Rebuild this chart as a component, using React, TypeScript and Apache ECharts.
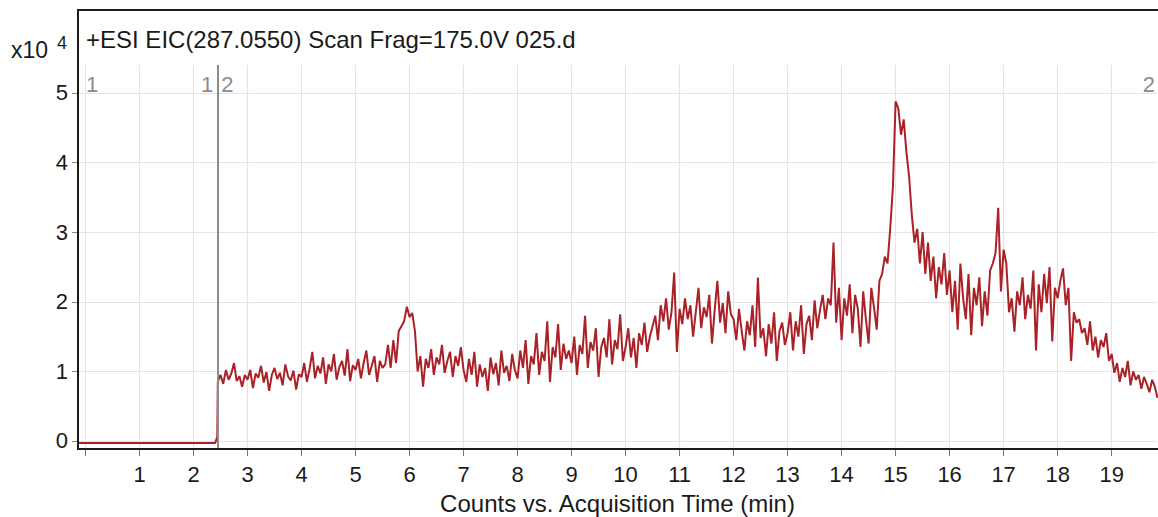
import React, { useEffect, useRef } from 'react';
import * as echarts from 'echarts';

// ---------- data ----------
const titleText = '+ESI EIC(287.0550) Scan Frag=175.0V 025.d';
const xAxisTitle = 'Counts vs. Acquisition Time (min)';
const yScaleText = 'x10';
const yScaleExponent = '4';

const xTickValues = [0, 1, 2, 3, 4, 5, 6, 7, 8, 9, 10, 11, 12, 13, 14, 15, 16, 17, 18, 19];
const xLabelValues = [1, 2, 3, 4, 5, 6, 7, 8, 9, 10, 11, 12, 13, 14, 15, 16, 17, 18, 19];
const yTickValues = [0, 1, 2, 3, 4, 5];

const xMin = -0.139;
const xMax = 19.84;
const yMin = -0.115;
const yMax = 5.402;

// segment boundary (acquisition segments 1 | 2)
const segmentBoundary = 2.44;
const segmentIds = ['1', '2'];

// flat pre-acquisition part (time, intensity x10^4)
const preTimes = [-0.14, 2.4, 2.44];
const preValues = [-0.03, -0.03, 0.06];

// scans: start time, spacing (min), intensity x10^4
const scanStart = 2.45;
const scanStep = 0.05;
const scanValues = [
  // 2.45 - 2.95
  0.85, 0.95, 0.82, 1.02, 0.88, 0.97, 1.12, 0.86, 0.93, 0.78, 0.95,
  // 3
  0.88, 1.02, 0.76, 0.97, 0.91, 1.08, 0.84, 0.99, 0.72, 0.95, 1.05, 0.89, 0.98, 0.80, 1.10, 0.93, 0.87, 1.01, 0.74, 0.96,
  // 4
  0.92, 1.12, 0.85, 1.04, 1.28, 0.90, 1.08, 0.97, 1.20, 0.82, 1.10, 1.00, 1.25, 0.88, 1.06, 1.15, 0.94, 1.32, 0.86, 1.09,
  // 5
  1.02, 1.18, 0.90, 1.12, 1.30, 0.95, 1.08, 1.22, 0.85, 1.15, 1.05, 1.10, 1.38, 1.05, 1.45, 1.12, 1.58, 1.65, 1.72, 1.93,
  // 6
  1.78, 1.84, 1.58, 1.00, 1.22, 0.78, 1.18, 1.05, 1.32, 0.95, 1.20, 1.10, 1.38, 0.98, 1.15, 1.28, 0.92, 1.22, 1.08, 1.35,
  // 7
  1.02, 0.85, 1.18, 0.95, 1.28, 0.78, 1.10, 0.92, 1.05, 0.72, 1.20, 0.96, 1.12, 0.80, 1.30, 0.98, 1.08, 0.86, 1.25, 1.02,
  // 8
  0.90, 1.30, 1.05, 1.45, 0.82, 1.22, 1.10, 1.55, 0.95, 1.28, 1.15, 1.72, 0.85, 1.35, 1.20, 1.68, 1.02, 1.40, 1.18, 1.30,
  // 9
  1.12, 1.50, 0.95, 1.38, 1.25, 1.80, 1.05, 1.42, 1.30, 1.62, 0.92, 1.35, 1.48, 1.20, 1.75, 1.10, 1.45, 1.32, 1.82, 1.15,
  // 10
  1.35, 1.62, 1.20, 1.48, 1.05, 1.55, 1.38, 1.70, 1.28, 1.50, 1.65, 1.80, 1.45, 1.95, 1.72, 2.05, 1.60, 1.85, 2.42, 1.28,
  // 11
  1.90, 1.68, 2.05, 1.75, 1.95, 1.50, 1.85, 2.20, 1.62, 1.92, 1.78, 2.10, 1.40, 1.88, 2.30, 1.70, 1.98, 1.55, 2.15, 1.82,
  // 12
  1.75, 1.45, 1.90, 1.58, 1.30, 1.72, 1.52, 1.95, 1.35, 2.35, 1.48, 1.62, 1.22, 1.68, 1.40, 1.85, 1.15, 1.58, 1.70, 1.38,
  // 13
  1.55, 1.85, 1.30, 1.72, 1.50, 1.95, 1.25, 1.68, 1.80, 1.45, 2.02, 1.62, 1.88, 2.10, 1.75, 2.05, 1.95, 2.85, 1.70, 2.20,
  // 14
  1.45, 2.05, 1.80, 2.25, 1.55, 2.10, 1.90, 1.35, 2.15, 1.75, 1.40, 2.20, 1.92, 1.60, 2.30, 2.40, 2.65, 2.55, 3.05, 3.65,
  // 15
  4.88, 4.78, 4.40, 4.62, 4.15, 3.80, 3.25, 2.85, 3.05, 2.55, 3.00, 2.40, 2.85, 2.30, 2.65, 2.05, 2.50, 2.25, 2.70, 2.10,
  // 16
  2.45, 1.85, 2.30, 1.60, 2.55, 2.05, 1.75, 2.40, 1.52, 2.20, 1.95, 2.35, 1.65, 2.15, 1.80, 2.45, 2.55, 2.70, 3.35, 2.15,
  // 17
  2.75, 2.55, 1.85, 2.05, 1.57, 2.15, 1.95, 2.35, 1.75, 2.10, 1.90, 2.45, 1.30, 2.25, 1.85, 2.40, 1.98, 2.50, 1.43, 2.20,
  // 18
  2.05, 2.30, 2.48, 1.95, 2.20, 1.15, 1.85, 1.70, 1.75, 1.55, 1.62, 1.38, 1.72, 1.30, 1.50, 1.20, 1.45, 1.35, 1.55, 1.15,
  // 19 - 19.85
  1.25, 0.98, 1.12, 0.85, 1.05, 0.92, 1.15, 0.80, 1.00, 0.88, 0.95, 0.75, 0.92, 0.82, 0.70, 0.88, 0.78, 0.62,
];

// ---------- styles ----------
const FONT = '"Liberation Sans", Arial, sans-serif';
const TRACE_COLOR = '#a82228';
const TEXT_COLOR = '#1a1a1a';
const SEG_COLOR = '#8c8c8c';
const GRID_COLOR = '#e4e4e4';

const GRID_LEFT = 78;
const GRID_TOP = 65;
const GRID_WIDTH = 1079;
const GRID_HEIGHT = 384;
const FRAME_TOP = 10;

export default function App() {
  const ref = useRef<HTMLDivElement>(null);

  useEffect(() => {
    if (!ref.current) return;
    const chart = echarts.init(ref.current, undefined, { renderer: 'svg' });

    const traceData: [number, number][] = [];
    preTimes.forEach((t, i) => traceData.push([t, preValues[i]]));
    scanValues.forEach((v, i) => traceData.push([+(scanStart + i * scanStep).toFixed(2), v]));

    chart.setOption({
      animation: false,
      backgroundColor: '#ffffff',
      textStyle: { fontFamily: FONT },
      grid: {
        left: GRID_LEFT,
        top: GRID_TOP,
        width: GRID_WIDTH,
        height: GRID_HEIGHT,
        containLabel: false,
        outerBoundsMode: 'none',
      },
      xAxis: {
        type: 'value',
        min: xMin,
        max: xMax,
        name: xAxisTitle,
        nameLocation: 'middle',
        nameGap: 42,
        nameTextStyle: { fontSize: 24, color: TEXT_COLOR, fontFamily: FONT },
        axisLine: { show: true, onZero: false, lineStyle: { color: TEXT_COLOR, width: 2 } },
        axisTick: { show: true, customValues: xTickValues, length: 7, lineStyle: { color: '#777', width: 1 } },
        axisLabel: { customValues: xLabelValues, fontSize: 22, color: TEXT_COLOR, margin: 14, fontFamily: FONT },
        splitLine: { show: false },
      },
      yAxis: {
        type: 'value',
        min: yMin,
        max: yMax,
        axisLine: { show: false, onZero: false },
        axisTick: { show: true, customValues: yTickValues, length: 6, lineStyle: { color: '#888', width: 1 } },
        axisLabel: { customValues: yTickValues, fontSize: 22, color: TEXT_COLOR, margin: 10, fontFamily: FONT },
        splitLine: { show: false },
      },
      series: [
        {
          type: 'line',
          data: [],
          silent: true,
          z: 1,
          markLine: {
            silent: true,
            z: 1,
            symbol: ['none', 'none'],
            label: { show: false },
            lineStyle: { color: GRID_COLOR, width: 1.2, type: 'solid' },
            emphasis: { disabled: true },
            data: [
              ...xTickValues.map((v) => ({ xAxis: v })),
              ...yTickValues.map((v) => ({ yAxis: v })),
            ],
          },
        },
        {
          type: 'line',
          data: traceData,
          showSymbol: false,
          symbol: 'none',
          silent: true,
          z: 3,
          clip: true,
          lineStyle: { color: TRACE_COLOR, width: 2 },
        },
        {
          type: 'line',
          data: [],
          silent: true,
          z: 4,
          markLine: {
            silent: true,
            z: 4,
            symbol: ['none', 'none'],
            label: { show: false },
            lineStyle: { color: SEG_COLOR, width: 2, type: 'solid' },
            emphasis: { disabled: true },
            data: [{ xAxis: segmentBoundary }],
          },
        },
      ],
    });

    const px = (v: number) => chart.convertToPixel({ xAxisIndex: 0 }, v) as number;
    const leftPx = GRID_LEFT;
    const rightPx = GRID_LEFT + GRID_WIDTH;
    const boundaryPx = px(segmentBoundary);
    const labelY = GRID_TOP + 19;
    const segText = (text: string, x: number, align: string) => ({
      type: 'text',
      x,
      y: labelY,
      silent: true,
      style: { text, fill: SEG_COLOR, fontSize: 22, fontFamily: FONT, align, verticalAlign: 'middle' },
    });

    chart.setOption({
      graphic: [
        {
          type: 'rect',
          silent: true,
          shape: { x: GRID_LEFT, y: FRAME_TOP, width: GRID_WIDTH + 20, height: GRID_TOP + GRID_HEIGHT - FRAME_TOP },
          style: { fill: 'none', stroke: TEXT_COLOR, lineWidth: 2 },
          z: 10,
        },
        {
          type: 'text',
          x: GRID_LEFT + 8,
          y: 39,
          silent: true,
          style: { text: titleText, fill: TEXT_COLOR, fontSize: 24, fontFamily: FONT, align: 'left', verticalAlign: 'middle' },
        },
        {
          type: 'text',
          x: 11,
          y: 50,
          silent: true,
          style: { text: yScaleText, fill: TEXT_COLOR, fontSize: 23, fontFamily: FONT, align: 'left', verticalAlign: 'middle' },
        },
        {
          type: 'text',
          x: 57,
          y: 43,
          silent: true,
          style: { text: yScaleExponent, fill: TEXT_COLOR, fontSize: 18, fontFamily: FONT, align: 'left', verticalAlign: 'middle' },
        },
        segText(segmentIds[0], leftPx + 8, 'left'),
        segText(segmentIds[0], boundaryPx - 4, 'right'),
        segText(segmentIds[1], boundaryPx + 4, 'left'),
        segText(segmentIds[1], rightPx - 2, 'right'),
      ],
    });

    return () => chart.dispose();
  }, []);

  return (
    <div
      ref={ref}
      style={{ position: 'fixed', left: 0, top: 0, width: 1158, height: 517, background: '#fff' }}
    />
  );
}
